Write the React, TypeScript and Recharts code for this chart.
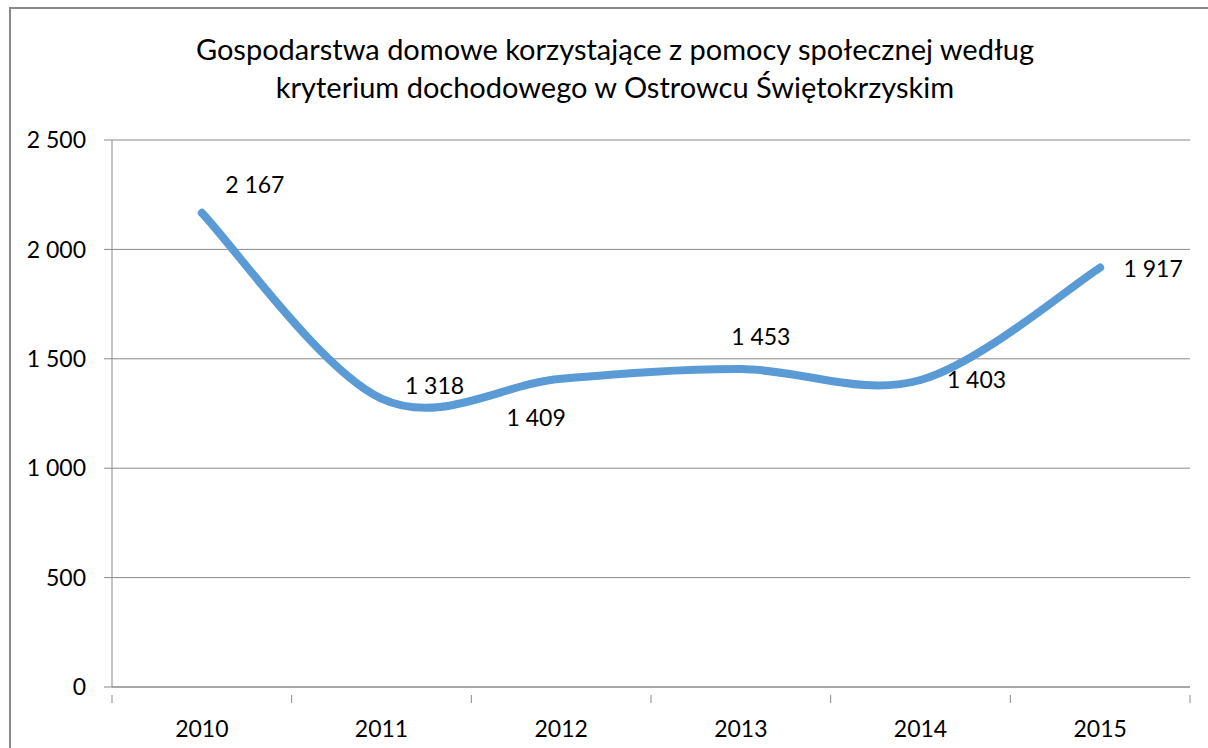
import React from 'react'
import { LineChart, Line, XAxis, YAxis, CartesianGrid, LabelList } from 'recharts'

const YEARS = ['2010', '2011', '2012', '2013', '2014', '2015']
const HOUSEHOLDS = [2167, 1318, 1409, 1453, 1403, 1917]
const Y_TICKS = [0, 500, 1000, 1500, 2000, 2500]
const TITLE_LINES = [
  'Gospodarstwa domowe korzystające z pomocy społecznej według',
  'kryterium dochodowego w Ostrowcu Świętokrzyskim',
]

// label nudges (px) relative to each point, as placed in the original
const LABEL_OFFSETS: [number, number][] = [
  [53, -28], [53, -13], [-25, 39], [20, -32], [56, 0], [53, 1],
]

const W = 1208
const H = 748
const MARGIN = { top: 140, right: 18, bottom: 0, left: 0 }
const Y_AXIS_W = 112
const X_AXIS_H = 61
const STEP = (W - Y_AXIS_W - MARGIN.right) / YEARS.length

const FONT = 'Lato, "Open Sans", sans-serif'
const AXIS_GRAY = '#898989'
const LINE_BLUE = '#5B9BD5'
const TXT = 23

const data = YEARS.map((year, i) => ({ x: i + 0.5, year, value: HOUSEHOLDS[i] }))

const fmt = (v: number) => String(v).replace(/\B(?=(\d{3})+(?!\d))/g, ' ')

// Excel-like smoothing (Catmull-Rom as cubic beziers)
function excelSmooth(context: any) {
  let pts: [number, number][] = []
  return {
    areaStart() {},
    areaEnd() {},
    lineStart() { pts = [] },
    point(x: number, y: number) { pts.push([+x, +y]) },
    lineEnd() {
      const n = pts.length
      if (!n) return
      context.moveTo(pts[0][0], pts[0][1])
      for (let i = 0; i < n - 1; i++) {
        const p0 = pts[Math.max(i - 1, 0)]
        const p1 = pts[i]
        const p2 = pts[i + 1]
        const p3 = pts[Math.min(i + 2, n - 1)]
        context.bezierCurveTo(
          p1[0] + (p2[0] - p0[0]) / 6, p1[1] + (p2[1] - p0[1]) / 6,
          p2[0] - (p3[0] - p1[0]) / 6, p2[1] - (p3[1] - p1[1]) / 6,
          p2[0], p2[1],
        )
      }
    },
  }
}

function XTick(props: any) {
  const { x, y, payload } = props
  const i = payload.value
  return (
    <g>
      <line x1={x} x2={x} y1={y} y2={y + 8} stroke={AXIS_GRAY} />
      {i < YEARS.length && (
        <text x={x + STEP / 2} y={y + 34} dy="0.355em" textAnchor="middle" fontSize={TXT} fontFamily={FONT} fill="#000">
          {YEARS[i]}
        </text>
      )}
    </g>
  )
}

function ValueLabel(props: any) {
  const { x, y, value, index } = props
  const [dx, dy] = LABEL_OFFSETS[index] ?? [0, 0]
  return (
    <text x={x + dx} y={y + dy} dy="0.355em" textAnchor="middle" fontSize={TXT} fontFamily={FONT} fill="#000">
      {fmt(value)}
    </text>
  )
}

export default function App() {
  return (
    <div style={{ position: 'absolute', left: 0, top: 0, width: W, height: H, overflow: 'hidden', background: '#fff' }}>
      <div style={{ position: 'absolute', left: 9, top: 7, width: 1400, height: 900, border: `2px solid ${AXIS_GRAY}` }} />
      <svg width={W} height={120} style={{ position: 'absolute', left: 0, top: 0 }}>
        {TITLE_LINES.map((t, i) => (
          <text key={i} x={615} y={60 + i * 38} textAnchor="middle" fontSize={29} fontFamily={FONT} fill="#000">
            {t}
          </text>
        ))}
      </svg>
      <div style={{ position: 'absolute', left: 0, top: 0 }}>
        <LineChart width={W} height={H} data={data} margin={MARGIN}>
          <CartesianGrid vertical={false} stroke={AXIS_GRAY} />
          <XAxis
            dataKey="x"
            type="number"
            domain={[0, YEARS.length]}
            ticks={YEARS.map((_, i) => i).concat(YEARS.length)}
            height={X_AXIS_H}
            stroke={AXIS_GRAY}
            tickLine={false}
            tick={<XTick />}
            interval={0}
          />
          <YAxis
            domain={[0, 2500]}
            ticks={Y_TICKS}
            width={Y_AXIS_W}
            stroke={AXIS_GRAY}
            tickSize={8}
            tickMargin={18}
            tickFormatter={fmt}
            tick={{ fill: '#000', fontSize: TXT, fontFamily: FONT }}
            interval={0}
          />
          <Line
            dataKey="value"
            type={excelSmooth as any}
            stroke={LINE_BLUE}
            strokeWidth={8}
            strokeLinecap="round"
            dot={false}
            isAnimationActive={false}
          >
            <LabelList dataKey="value" content={<ValueLabel />} />
          </Line>
        </LineChart>
      </div>
    </div>
  )
}
